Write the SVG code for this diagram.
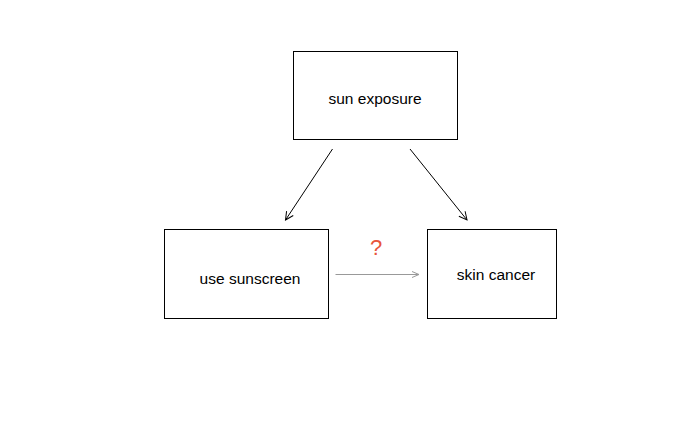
<svg xmlns="http://www.w3.org/2000/svg" width="700" height="432" viewBox="0 0 700 432">
<style>
.box{fill:#fff;stroke:#000;stroke-width:1}
.lbl{font-family:"Liberation Sans",Arial,sans-serif;font-size:15.5px;fill:#000}
.edge{fill:none;stroke:#000;stroke-width:1}
.grey{stroke:#999}
</style>
<defs>
<marker id="ah" markerWidth="10" markerHeight="10" refX="9" refY="5" orient="auto" markerUnits="userSpaceOnUse">
<path d="M1,1 L9,5 L1,9" fill="none" stroke="#000" stroke-width="1"/>
</marker>
<marker id="ahg" markerWidth="10" markerHeight="10" refX="9" refY="5" orient="auto" markerUnits="userSpaceOnUse">
<path d="M2,2 L9,5 L2,8" fill="none" stroke="#999" stroke-width="1"/>
</marker>
</defs>
<rect width="700" height="432" fill="#fff"/>
<g id="n-sun">
<rect class="box" x="293.5" y="51.5" width="164" height="88"/>
<text class="lbl" x="375" y="104" text-anchor="middle">sun exposure</text>
</g>
<g id="n-sunscreen">
<rect class="box" x="164.5" y="229.5" width="164" height="89"/>
<text class="lbl" x="250" y="284" text-anchor="middle">use sunscreen</text>
</g>
<g id="n-cancer">
<rect class="box" x="427.5" y="229.5" width="129" height="89"/>
<text class="lbl" x="496" y="280" text-anchor="middle">skin cancer</text>
</g>
<g id="connectors">
<line class="edge" x1="332.5" y1="149" x2="285.5" y2="220" marker-end="url(#ah)"/>
<line class="edge" x1="410" y1="149" x2="467" y2="220" marker-end="url(#ah)"/>
<line class="edge grey" x1="335.5" y1="274.5" x2="419" y2="274.5" marker-end="url(#ahg)"/>
<text x="376" y="255" text-anchor="middle" font-family="Liberation Sans,Arial,sans-serif" font-size="22" fill="#e8553a">?</text>
</g>
</svg>
